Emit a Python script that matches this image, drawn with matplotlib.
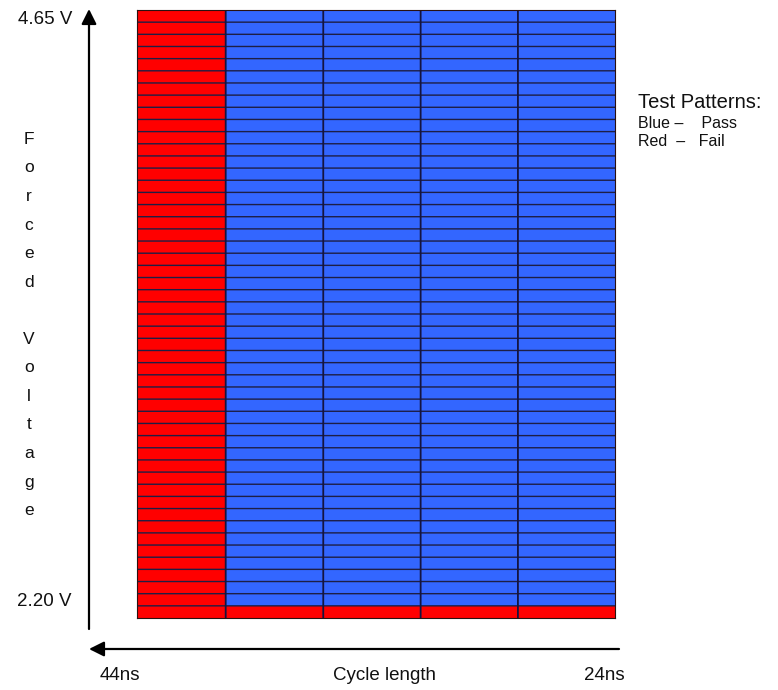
import matplotlib
matplotlib.use("Agg")
import matplotlib.pyplot as plt
import numpy as np
from matplotlib.colors import ListedColormap

# ---- data ----
cycle_lengths = ["44ns", "39ns", "34ns", "29ns", "24ns"]
voltages = [4.65, 4.60, 4.55, 4.50, 4.45, 4.40, 4.35, 4.30, 4.25, 4.20,
            4.15, 4.10, 4.05, 4.00, 3.95, 3.90, 3.85, 3.80, 3.75, 3.70,
            3.65, 3.60, 3.55, 3.50, 3.45, 3.40, 3.35, 3.30, 3.25, 3.20,
            3.15, 3.10, 3.05, 3.00, 2.95, 2.90, 2.85, 2.80, 2.75, 2.70,
            2.65, 2.60, 2.55, 2.50, 2.45, 2.40, 2.35, 2.30, 2.25, 2.20]
# one string per voltage row (top = 4.65 V), one char per cycle length: P = pass, F = fail
results = [
    "FPPPP", "FPPPP", "FPPPP", "FPPPP", "FPPPP", "FPPPP", "FPPPP", "FPPPP", "FPPPP", "FPPPP",
    "FPPPP", "FPPPP", "FPPPP", "FPPPP", "FPPPP", "FPPPP", "FPPPP", "FPPPP", "FPPPP", "FPPPP",
    "FPPPP", "FPPPP", "FPPPP", "FPPPP", "FPPPP", "FPPPP", "FPPPP", "FPPPP", "FPPPP", "FPPPP",
    "FPPPP", "FPPPP", "FPPPP", "FPPPP", "FPPPP", "FPPPP", "FPPPP", "FPPPP", "FPPPP", "FPPPP",
    "FPPPP", "FPPPP", "FPPPP", "FPPPP", "FPPPP", "FPPPP", "FPPPP", "FPPPP", "FPPPP", "FFFFF",
]
y_top_label = "4.65 V"
y_bottom_label = "2.20 V"
x_left_label = "44ns"
x_right_label = "24ns"
x_title = "Cycle length"
y_title = "Forced Voltage"
legend_lines = ["Test Patterns:", "Blue \u2013    Pass", "Red  \u2013   Fail"]

# ---- layout ----
W, H = 778, 690
fig = plt.figure(figsize=(W / 100, H / 100), dpi=100)
fig.patch.set_facecolor("white")

def fx(px):
    return px / W

def fy(py):
    return 1 - py / H

ax = fig.add_axes([fx(136.7), fy(618), fx(615) - fx(136.7), fy(10) - fy(618)])

# column edges (first column slightly narrower in the reference)
col_edges = [0, 0.912, 1.912, 2.91, 3.907, 4.902]
row_edges = np.arange(len(voltages) + 1)

grid = np.array([[1 if c == "P" else 0 for c in row] for row in results[::-1]])
cmap = ListedColormap(["#ff0000", "#3366ff"])
ax.pcolormesh(col_edges, row_edges, grid, cmap=cmap, vmin=0, vmax=1,
              edgecolors="none", linewidth=0)
ax.hlines(row_edges[1:-1], col_edges[0], col_edges[-1], colors="#1e1e44",
          linewidth=1.0, snap=False, antialiased=True)
ax.vlines(col_edges[1:-1], row_edges[0], row_edges[-1], colors="#141440",
          linewidth=1.3, snap=False)
ax.set_xlim(col_edges[0], col_edges[-1])
ax.set_ylim(0, len(voltages))
ax.set_xticks([])
ax.set_yticks([])
for s in ax.spines.values():
    s.set_color("#2a1010")
    s.set_linewidth(0.8)

# overlay axes for arrows and text in pixel coords
ov = fig.add_axes([0, 0, 1, 1], facecolor="none")
ov.set_xlim(0, W)
ov.set_ylim(H, 0)
ov.axis("off")

font = "Liberation Sans"
# vertical arrow
ov.annotate("", xy=(89, 9), xytext=(89, 629),
            arrowprops=dict(arrowstyle="-|>,head_length=0.9,head_width=0.45",
                            color="black", lw=1.6, shrinkA=0, shrinkB=0))
# horizontal arrow
ov.annotate("", xy=(89, 649), xytext=(619, 649),
            arrowprops=dict(arrowstyle="-|>,head_length=0.9,head_width=0.45",
                            color="black", lw=1.6, shrinkA=0, shrinkB=0))

fs = 13.5
ov.text(72, 19, y_top_label, ha="right", va="center", fontsize=fs, family=font, color="#111111")
ov.text(72, 601, y_bottom_label, ha="right", va="center", fontsize=fs, family=font, color="#111111")
ov.text(100, 675, x_left_label, ha="left", va="center", fontsize=fs, family=font, color="#111111")
ov.text(625, 675, x_right_label, ha="right", va="center", fontsize=fs, family=font, color="#111111")
ov.text(385, 675, x_title, ha="center", va="center", fontsize=fs, family=font, color="#111111")

vertical = "\n".join(y_title)
ov.text(29, 325, vertical, ha="center", va="center", fontsize=12.5, family=font,
        linespacing=2.13, color="#111111")

ov.text(638, 103, legend_lines[0], ha="left", va="center", fontsize=14.5, family=font, color="#111111")
ov.text(638, 123, legend_lines[1], ha="left", va="center", fontsize=11.5, family=font, color="#111111")
ov.text(638, 142, legend_lines[2], ha="left", va="center", fontsize=11.5, family=font, color="#111111")

fig.savefig("out.png", dpi=100)
